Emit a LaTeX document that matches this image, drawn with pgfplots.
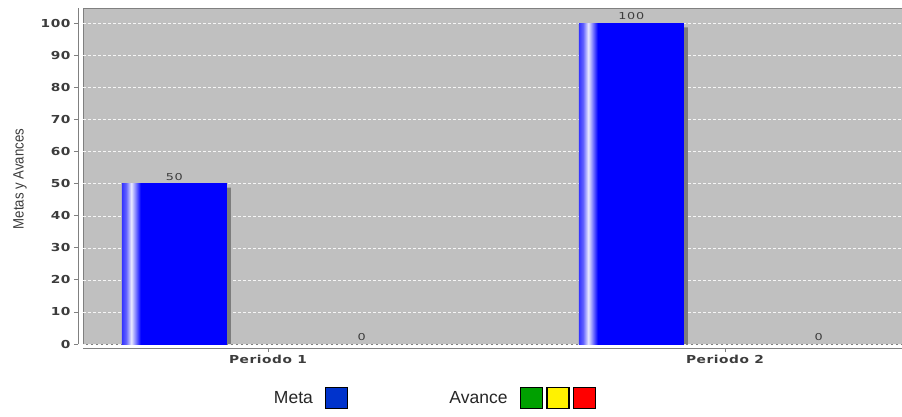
\documentclass[border=0pt]{standalone}
\usepackage{pgfplots}
\usepackage{pgfplotstable}
\pgfplotsset{compat=1.18}
\usepackage{fontspec}
\setmainfont{Liberation Sans}
\newfontfamily\tickfont{DejaVu Sans}[FakeStretch=1.25,LetterSpace=5]
\newfontfamily\valfont{DejaVu Sans}[FakeStretch=1.35,LetterSpace=8]
\newfontfamily\labfont{Liberation Sans}[FakeStretch=0.88]
\definecolor{bggray}{RGB}{192,192,192}
\definecolor{axgray}{RGB}{128,128,128}
\definecolor{txtgray}{RGB}{60,60,60}
\definecolor{metaleg}{RGB}{0,51,204}
\definecolor{avgreen}{RGB}{0,160,0}
\definecolor{shadowgray}{RGB}{125,125,125}
\definecolor{bblue}{RGB}{0,0,255}
\colorlet{bedge}{bblue!80!white}
\colorlet{bedgeb}{bblue!62!white}
\colorlet{bhigh}{bblue!8!white}
\colorlet{bmid}{bblue!55!white}
\colorlet{gridc}{white!85!bggray}
\pgfdeclarehorizontalshading{barshade}{100bp}{color(0bp)=(bblue); color(25bp)=(bedge); color(27bp)=(bedgeb); color(29.5bp)=(bhigh); color(31.8bp)=(bmid); color(34bp)=(bblue); color(100bp)=(bblue)}

\pgfplotstableread{
x meta avance shadow
0 50 0 48.75
1 100 0 98.75
}\data

\begin{document}
\begin{tikzpicture}
\path[use as bounding box] (0,0) rectangle (902pt,416pt);
\begin{axis}[
  at={(83pt,72pt)}, anchor=south west,
  scale only axis, width=819pt, height=336pt,
  xmin=-0.4048, xmax=1.3873, ymin=0, ymax=104.8,
  enlargelimits=false,
  axis lines=left, axis line style={axgray, -, line width=0.8pt},
  axis x line shift=4pt, axis y line shift=5pt,
  axis background/.style={fill=bggray, draw=axgray, line width=0.8pt},
  ybar, bar width=0.2298,
  xtick={0,1}, xticklabels={Periodo 1, Periodo 2},
  ytick={0,10,...,100},
  tick align=outside, major tick length=4pt,
  tick style={axgray, line width=0.8pt},
  ymajorgrids, grid style={gridc, dash pattern=on 2.5pt off 2.5pt, line width=0.5pt},
  /pgf/number format/assume math mode=true,
  ticklabel style={font=\tickfont\bfseries\fontsize{11}{13}\selectfont, text=txtgray},
  ylabel={Metas y Avances},
  ylabel style={font=\labfont\fontsize{15}{17}\selectfont, text=txtgray,
    at={(axis description cs:-0.0769,0.491)}, anchor=center},
  legend plot pos=right, legend columns=2,
  legend style={draw=none, fill=none, at={(axis description cs:0.4286,-0.161)}, anchor=center,
    font=\fontsize{17.5}{20}\selectfont, text=black!85,
    /tikz/every odd column/.append style={column sep=10pt},
    /tikz/every even column/.append style={column sep=99pt}},
]
\addplot[forget plot, fill=shadowgray, draw=none, bar shift=-0.19625] table[x=x,y=shadow]{\data};
\addplot[forget plot, draw=none, shading=barshade, shade, bar shift=-0.205,
  skip coords between index={1}{2},
  nodes near coords, nodes near coords style={font=\valfont\fontsize{9.5}{11}\selectfont, text=txtgray}]
  table[x=x,y=meta]{\data};
\addplot[forget plot, draw=none, shading=barshade, shade, bar shift=-0.205,
  skip coords between index={0}{1},
  nodes near coords, nodes near coords style={font=\valfont\fontsize{9.5}{11}\selectfont, text=txtgray}]
  table[x=x,y=meta]{\data};
\addplot[forget plot, draw=none, fill=none, bar shift=0.205,
  nodes near coords, nodes near coords style={font=\valfont\fontsize{9.5}{11}\selectfont, text=txtgray}]
  table[x=x,y=avance]{\data};
\addlegendimage{legend image code/.code={\draw[black, line width=1.6pt, fill=metaleg] (0pt,-10.5pt) rectangle (22pt,10.5pt);}}
\addlegendentry{Meta}
\addlegendimage{legend image code/.code={
  \draw[black, line width=1.6pt, fill=avgreen] (0pt,-10.5pt) rectangle (22pt,10.5pt);
  \draw[black, line width=1.6pt, fill=yellow] (26.5pt,-10.5pt) rectangle (48.5pt,10.5pt);
  \draw[black, line width=1.6pt, fill=red] (53pt,-10.5pt) rectangle (75pt,10.5pt);}}
\addlegendentry{Avance}
\end{axis}
\end{tikzpicture}
\end{document}
